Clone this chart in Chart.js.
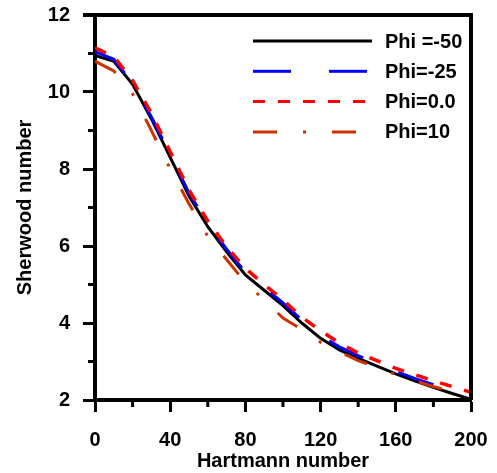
<!DOCTYPE html>
<html>
<head>
<meta charset="utf-8">
<script src="https://cdn.jsdelivr.net/npm/chart.js@4"></script>
<style>
  html, body { margin: 0; padding: 0; background: #fff; }
  #wrap { width: 497px; height: 473px; }
</style>
</head>
<body>
<div id="wrap"><canvas id="c"></canvas></div>
<script>
// Hartmann number (x) and Sherwood number per Phi
const xs = [0,10,20,30,40,50,60,70,80,90,100,110,120,130,140,150,160,170,180,190,200]
const phiM50 = [10.95,10.8,10.2,9.3,8.3,7.3,6.5,5.85,5.25,4.85,4.45,4.0,3.6,3.3,3.08,2.88,2.68,2.5,2.33,2.17,2.02]
const phiM25 = [11.05,10.85,10.22,9.35,8.38,7.38,6.58,5.92,5.32,4.92,4.52,4.08,3.68,3.38,3.15,2.94,2.74,2.56,2.4]
const phi00 = [11.15,10.92,10.3,9.45,8.45,7.45,6.65,5.98,5.42,5.0,4.6,4.15,3.8,3.48,3.22,3.02,2.82,2.66,2.5,2.35,2.2]
const phi10 = [10.8,10.55,9.95,9.0,8.0,7.1,6.25,5.65,5.05,4.6,4.13,3.83,3.5,3.25,3.02,2.85,2.66,2.5,2.35,2.22]
const legendNames = ['Phi =-50','Phi=-25','Phi=0.0','Phi=10']
const xTicks = [0,40,80,120,160,200]
const yTicks = [2,4,6,8,10,12]
const xMinor = [20,60,100,140,180]
const yMinor = [3,5,7,9,11]

function pts(ys){
    return ys.map((y,i)=>({x:xs[i], y:y}))
}

const FONT = "'Liberation Sans', Arial, sans-serif"

function noPad(s){
    s.paddingLeft = 0; s.paddingRight = 0; s.paddingTop = 0; s.paddingBottom = 0
}

const frameAndLegend = {
    id:'frameAndLegend',
    afterDraw(chart){
        const ctx = chart.ctx
        const a = chart.chartArea
        const xs_ = chart.scales.x
        const ys_ = chart.scales.y
        ctx.save()
        ctx.strokeStyle = '#000'
        // top and right frame
        ctx.lineWidth = 4
        ctx.beginPath()
        ctx.moveTo(a.left - 12, a.top)
        ctx.lineTo(a.right, a.top)
        ctx.lineTo(a.right, a.bottom)
        ctx.stroke()
        // minor ticks
        ctx.lineWidth = 3
        xMinor.forEach(v=>{
            const p = xs_.getPixelForValue(v)
            ctx.beginPath(); ctx.moveTo(p, a.bottom); ctx.lineTo(p, a.bottom + 7); ctx.stroke()
        })
        yMinor.forEach(v=>{
            const p = ys_.getPixelForValue(v)
            ctx.beginPath(); ctx.moveTo(a.left, p); ctx.lineTo(a.left - 7, p); ctx.stroke()
        })
        // legend
        const lx0 = a.left + 158, lx1 = a.left + 277, tx = a.left + 290
        ctx.font = 'bold 20px ' + FONT
        ctx.textBaseline = 'middle'
        ctx.textAlign = 'left'
        chart.data.datasets.forEach((ds,i)=>{
            const y = a.top + 26 + i*30.3
            ctx.strokeStyle = ds.borderColor
            ctx.lineWidth = 3
            ctx.setLineDash(ds.borderDash || [])
            ctx.beginPath(); ctx.moveTo(lx0, y); ctx.lineTo(lx1, y); ctx.stroke()
            ctx.setLineDash([])
            ctx.fillStyle = '#000'
            ctx.fillText(legendNames[i], tx, y + 1)
        })
        ctx.restore()
    }
}

new Chart(document.getElementById('c'), {
    type:'line',
    data:{
        datasets:[
            {label:legendNames[0], data:pts(phiM50), borderColor:'#000000', borderWidth:3, order:4},
            {label:legendNames[1], data:pts(phiM25), borderColor:'#0000ff', borderWidth:3, borderDash:[38,38], order:3},
            {label:legendNames[2], data:pts(phi00), borderColor:'#ff0000', borderWidth:3.5, borderDash:[12,13], order:1},
            {label:legendNames[3], data:pts(phi10), borderColor:'#cc3300', borderWidth:3, borderDash:[24,26,3,26], order:2}
        ]
    },
    options:{
        responsive:true,
        maintainAspectRatio:false,
        animation:false,
        devicePixelRatio:1,
        layout:{padding:{top:15, right:26, left:0, bottom:0}},
        elements:{point:{radius:0}, line:{tension:0, fill:false}},
        plugins:{legend:{display:false}, tooltip:{enabled:false}},
        scales:{
            x:{
                type:'linear', min:0, max:200,
                afterFit: s => { s.height = 73; noPad(s) },
                afterBuildTicks: s => { s.ticks = xTicks.map(v=>({value:v})) },
                grid:{drawOnChartArea:false, drawTicks:true, tickLength:12, tickWidth:3, tickColor:'#000'},
                border:{display:true, width:4, color:'#000'},
                ticks:{padding:16, color:'#000', font:{family:FONT, size:20, weight:'bold'}, maxRotation:0},
                title:{display:true, text:'Hartmann number', color:'#000', padding:{top:0,bottom:0}, font:{family:FONT, size:20, weight:'bold'}}
            },
            y:{
                type:'linear', min:2, max:12,
                afterFit: s => { s.width = 95; noPad(s) },
                afterBuildTicks: s => { s.ticks = yTicks.map(v=>({value:v})) },
                grid:{drawOnChartArea:false, drawTicks:true, tickLength:12, tickWidth:3, tickColor:'#000'},
                border:{display:true, width:4, color:'#000'},
                ticks:{padding:13, color:'#000', font:{family:FONT, size:20, weight:'bold'}},
                title:{display:true, text:'Sherwood number', color:'#000', padding:{top:13,bottom:0}, font:{family:FONT, size:20, weight:'bold'}}
            }
        }
    },
    plugins:[frameAndLegend]
})
</script>
</body>
</html>
